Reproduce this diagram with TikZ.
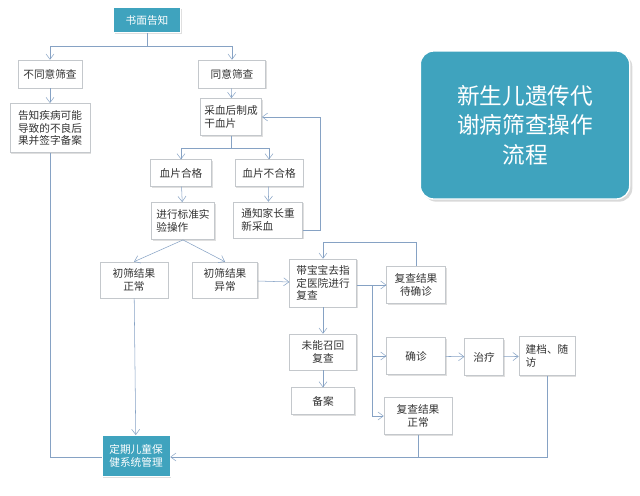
\documentclass[tikz,border=0pt]{standalone}
\usepackage{fontspec}
\setmainfont{Noto Sans CJK SC}
\usetikzlibrary{arrows.meta,shadows}
\definecolor{ln}{HTML}{86A2C4}
\definecolor{teal}{HTML}{3FA3BE}
\definecolor{bd}{HTML}{C4C8CC}
\begin{document}
\begin{tikzpicture}[x=0.75pt,y=-0.75pt,
 bx/.style={draw=bd,fill=white,drop shadow={shadow xshift=1pt,shadow yshift=-1pt,opacity=0.25},font=\fontsize{8}{9.5}\selectfont,text=black!80,align=center,inner sep=1pt},
 lb/.style={bx,align=left},
 tb/.style={bx,fill=teal,draw=white,text=white},
 ar/.style={draw=ln,-{Straight Barb[length=4pt,width=6pt]}},
 ln/.style={draw=ln}]
\useasboundingbox (0,0) rectangle (640,496);
\node[tb,minimum width=50pt,minimum height=19pt] (a) at (147,20) {书面告知};
\node[bx,minimum width=48pt,minimum height=21pt] (b) at (50,74) {不同意筛查};
\node[bx,minimum width=50pt,minimum height=21pt] (c) at (232,74) {同意筛查};
\node[bx,minimum width=60pt,minimum height=37pt] (d) at (50,128) {告知疾病可能\\导致的不良后\\果并签字备案};
\node[lb,minimum width=46pt,minimum height=28pt] (e) at (231,117) {采血后制成\\干血片};
\node[bx,minimum width=46pt,minimum height=20pt] (f) at (181,173) {血片合格};
\node[bx,minimum width=51pt,minimum height=20pt] (g) at (269,173) {血片不合格};
\node[lb,minimum width=47pt,minimum height=28pt] (h) at (183,221) {进行标准实\\验操作};
\node[lb,minimum width=52pt,minimum height=27pt] (i) at (268,220) {通知家长重\\新采血};
\node[bx,minimum width=51pt,minimum height=27pt] (j) at (134,280) {初筛结果\\正常};
\node[bx,minimum width=49pt,minimum height=27pt] (k) at (225,280) {初筛结果\\异常};
\node[lb,minimum width=50pt,minimum height=36pt] (l) at (323,283) {带宝宝去指\\定医院进行\\复查};
\node[bx,minimum width=44pt,minimum height=28pt] (m) at (416,285) {复查结果\\待确诊};
\node[bx,minimum width=50pt,minimum height=27pt] (n) at (323,352) {未能召回\\复查};
\node[bx,minimum width=47pt,minimum height=20pt] (o) at (323,401) {备案};
\node[bx,minimum width=44pt,minimum height=28pt] (p) at (416,356) {确诊};
\node[bx,minimum width=29pt,minimum height=28pt] (q) at (484,357) {治疗};
\node[lb,minimum width=42pt,minimum height=29pt] (r) at (547,356) {建档、随\\访};
\node[bx,minimum width=51pt,minimum height=28pt] (s) at (418,416) {复查结果\\正常};
\node[tb,minimum width=51pt,minimum height=31pt] (t) at (136,456) {定期儿童保\\健系统管理};
\node[draw=white,line width=1pt,fill=teal,rounded corners=10pt,minimum width=157pt,minimum height=111pt,drop shadow={shadow xshift=2pt,shadow yshift=-2pt,opacity=0.3},text=white,align=center,font=\fontsize{17}{22}\selectfont] (title) at (525,125) {新生儿遗传代\\谢病筛查操作\\流程};
% connectors
\coordinate (a1) at (147,46);
\draw[ln] (a) -- (a1);
\draw[ar] (a1) -| (b);
\draw[ar] (a1) -| (c);
\draw[ar] (b) -- (d);
\draw[ar] (c) -- (e);
\coordinate (e1) at (231,148);
\draw[ln] (e) -- (e1);
\draw[ar] (e1) -| (f);
\draw[ar] (e1) -| (g);
\draw[ar] (f) -- (h);
\draw[ar] (g) -- (i);
\draw[ar] (h.south) -- (j.north);
\draw[ar] (h.south) -- (k.north);
\coordinate (i1) at (320,230);
\draw[ar] (i.east |- i1) -- (i1) |- (e.east);
\draw[ar] (k) -- (l);
\coordinate (l1) at (372,285);
\draw[ar] (l.east |- l1) -- (m.west |- l1);
\draw[ar] (l1) |- (p.west);
\draw[ar] (l1) |- (s.west);
\coordinate (m1) at (416,242);
\draw[ar] (m.north) -- (m1) -| (l.north);
\draw[ar] (l) -- (n);
\draw[ar] (n) -- (o);
\draw[ar] (p) -- (q);
\draw[ar] (q) -- (r);
\coordinate (r1) at (547,457);
\draw[ar] (r.south) -- (r1) -- (t.east |- r1);
\draw[ln] (s.south) -- (s.south |- r1);
\draw[ar] (j) -- (t);
\coordinate (d1) at (50,457);
\draw[ln] (d.south) -- (d1) -- (t.west |- d1);
\end{tikzpicture}
\end{document}
